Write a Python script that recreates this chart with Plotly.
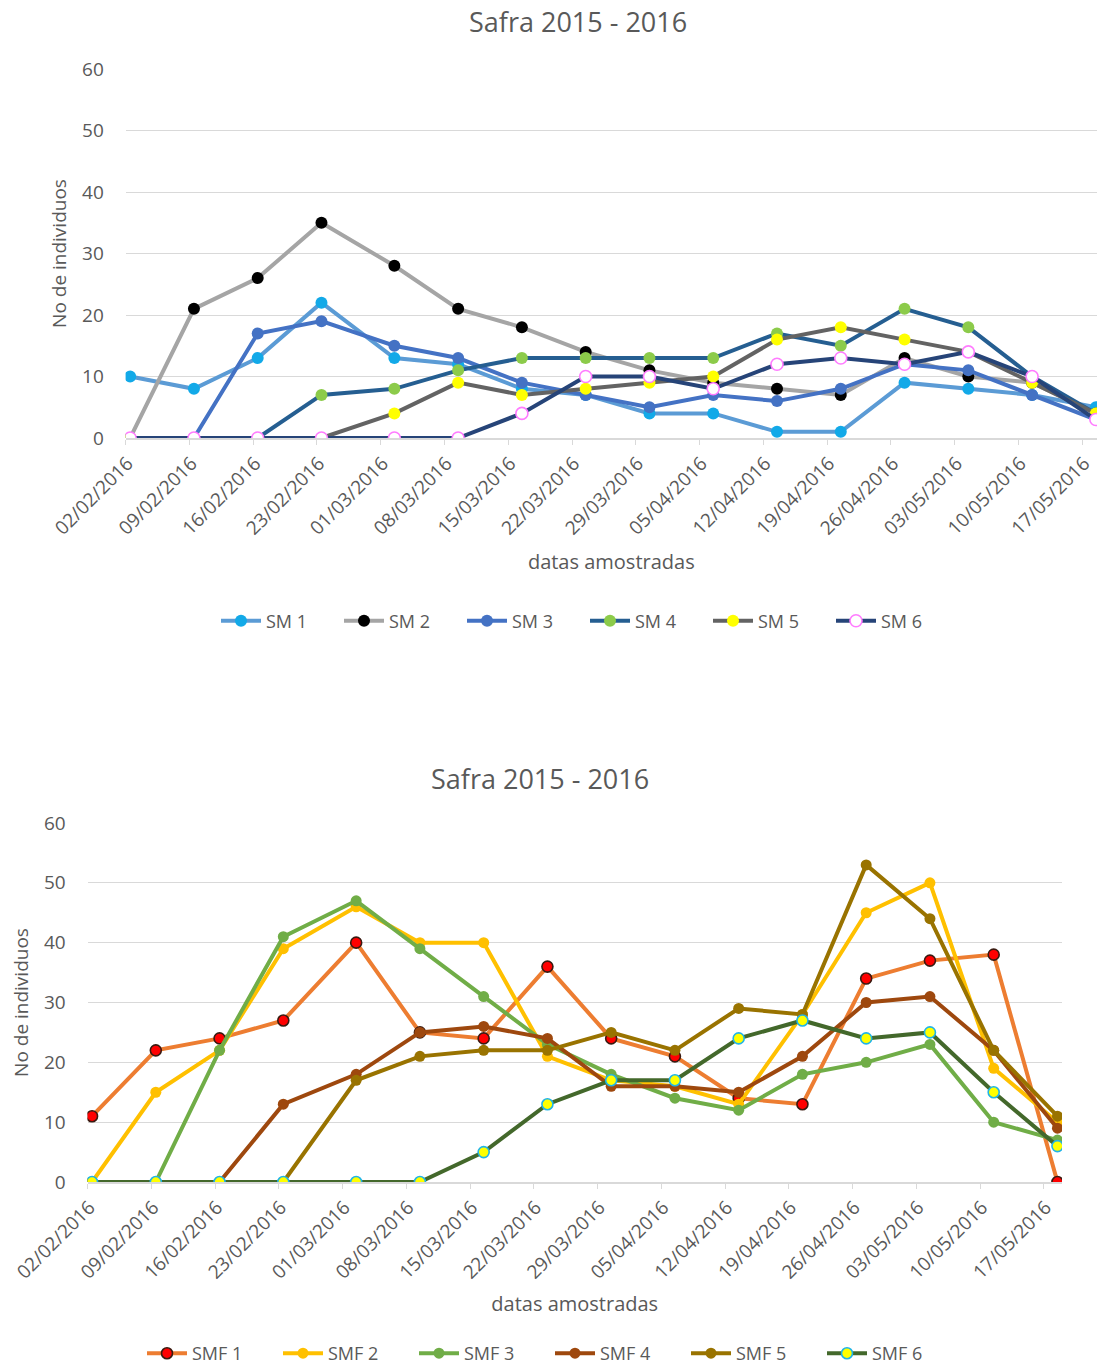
import pandas as pd
import plotly.graph_objects as go

# ---------------- data ----------------
sample_dates = ["02/02/2016", "09/02/2016", "16/02/2016", "23/02/2016", "02/03/2016",
                "09/03/2016", "16/03/2016", "23/03/2016", "30/03/2016", "06/04/2016",
                "13/04/2016", "20/04/2016", "27/04/2016", "04/05/2016", "11/05/2016",
                "18/05/2016"]
tick_labels = ["02/02/2016", "09/02/2016", "16/02/2016", "23/02/2016", "01/03/2016",
               "08/03/2016", "15/03/2016", "22/03/2016", "29/03/2016", "05/04/2016",
               "12/04/2016", "19/04/2016", "26/04/2016", "03/05/2016", "10/05/2016",
               "17/05/2016"]

sm_names = ["SM 1", "SM 2", "SM 3", "SM 4", "SM 5", "SM 6"]
SM1 = [10, 8, 13, 22, 13, 12, 8, 7, 4, 4, 1, 1, 9, 8, 7, 5]
SM2 = [0, 21, 26, 35, 28, 21, 18, 14, 11, 9, 8, 7, 13, 10, 9, 4]
SM3 = [0, 0, 17, 19, 15, 13, 9, 7, 5, 7, 6, 8, 12, 11, 7, 3]
SM4 = [0, 0, 0, 7, 8, 11, 13, 13, 13, 13, 17, 15, 21, 18, 10, 4]
SM5 = [0, 0, 0, 0, 4, 9, 7, 8, 9, 10, 16, 18, 16, 14, 9, 4]
SM6 = [0, 0, 0, 0, 0, 0, 4, 10, 10, 8, 12, 13, 12, 14, 10, 3]

smf_names = ["SMF 1", "SMF 2", "SMF 3", "SMF 4", "SMF 5", "SMF 6"]
SMF1 = [11, 22, 24, 27, 40, 25, 24, 36, 24, 21, 14, 13, 34, 37, 38, 0]
SMF2 = [0, 15, 22, 39, 46, 40, 40, 21, 17, 16, 13, 28, 45, 50, 19, 10]
SMF3 = [0, 0, 22, 41, 47, 39, 31, 23, 18, 14, 12, 18, 20, 23, 10, 7]
SMF4 = [0, 0, 0, 13, 18, 25, 26, 24, 16, 16, 15, 21, 30, 31, 22, 9]
SMF5 = [0, 0, 0, 0, 17, 21, 22, 22, 25, 22, 29, 28, 53, 44, 22, 11]
SMF6 = [0, 0, 0, 0, 0, 0, 5, 13, 17, 17, 24, 27, 24, 25, 15, 6]

chart_title = "Safra 2015 - 2016"
x_title = "datas amostradas"
y_title = "No de individuos"

# ---------------- styles ----------------
sm_styles = [
    dict(line="#5B9BD5", fill="#12A9E8", outline=None),
    dict(line="#A5A5A5", fill="#000000", outline=None),
    dict(line="#4472C4", fill="#4472C4", outline=None),
    dict(line="#255E91", fill="#8CCB4A", outline=None),
    dict(line="#636363", fill="#FFFF00", outline=None),
    dict(line="#264478", fill="#FFFFFF", outline="#FF7CFF"),
]
smf_styles = [
    dict(line="#ED7D31", fill="#FF0000", outline="#3A1A10"),
    dict(line="#FFC000", fill="#FFC000", outline=None),
    dict(line="#70AD47", fill="#70AD47", outline=None),
    dict(line="#9E480E", fill="#9E480E", outline=None),
    dict(line="#997300", fill="#997300", outline=None),
    dict(line="#43682B", fill="#FFFF00", outline="#1FB4E8"),
]

FONT = "Open Sans, Noto Sans, sans-serif"
TXT = "#595959"
GRID = "#D9D9D9"
W, H = 1097, 1372

x_pts = pd.to_datetime(sample_dates, dayfirst=True) + pd.Timedelta(hours=12)
x_ticks = pd.to_datetime(tick_labels, dayfirst=True)

fig = go.Figure()


def add_series(names, series, styles, xa, ya, legend, msize):
    for name, vals, st in zip(names, series, styles):
        mline = dict(width=1.6, color=st["outline"]) if st["outline"] else dict(width=0)
        fig.add_trace(go.Scatter(
            x=x_pts, y=vals, name=name, mode="lines+markers",
            xaxis=xa, yaxis=ya, legend=legend,
            line=dict(color=st["line"], width=4),
            marker=dict(size=msize, color=st["fill"], line=mline),
        ))


add_series(sm_names, [SM1, SM2, SM3, SM4, SM5, SM6], sm_styles, "x", "y", "legend", 12)
add_series(smf_names, [SMF1, SMF2, SMF3, SMF4, SMF5, SMF6], smf_styles, "x2", "y2", "legend2", 11)


def xaxis_cfg(domain, rng, anchor, standoff):
    return dict(
        domain=domain, anchor=anchor, type="date", range=rng,
        tickmode="array", tickvals=x_ticks, ticktext=tick_labels, tickangle=-45,
        ticks="outside", ticklen=5, tickcolor=GRID, tickwidth=1.3,
        ticklabelshift=2, ticklabeloverflow="allow",
        showline=True, linecolor=GRID, linewidth=1.5,
        showgrid=False, zeroline=False,
        tickfont=dict(family=FONT, size=19, color=TXT),
        title=dict(text=x_title, font=dict(family=FONT, size=20, color=TXT), standoff=standoff),
        automargin=False, fixedrange=True,
    )


def yaxis_cfg(domain, anchor):
    return dict(
        domain=domain, anchor=anchor, range=[0, 60], dtick=10, tick0=0,
        showgrid=True, gridcolor=GRID, gridwidth=1.3,
        zeroline=False, showline=False,
        ticks="outside", ticklen=17, tickcolor="rgba(0,0,0,0)",
        tickfont=dict(family=FONT, size=19, color=TXT),
        title=dict(text=y_title, font=dict(family=FONT, size=19, color=TXT), standoff=10),
        automargin=False, fixedrange=True,
    )


top_x = [125.6 / W, 1.0]
top_y = [1 - 438 / H, 1 - 69 / H]
bot_x = [87.5 / W, 1062 / W]
bot_y = [1 - 1182 / H, 1 - 823 / H]

fig.update_layout(
    width=W, height=H,
    margin=dict(l=0, r=0, t=0, b=0),
    paper_bgcolor="white", plot_bgcolor="white",
    font=dict(family=FONT, color=TXT),
    xaxis=xaxis_cfg(top_x, ["2016-02-02 00:00", "2016-05-18 15:00"], "y", 16),
    yaxis=yaxis_cfg(top_y, "x"),
    xaxis2=xaxis_cfg(bot_x, ["2016-02-02 00:00", "2016-05-19 00:00"], "y2", 14),
    yaxis2=yaxis_cfg(bot_y, "x2"),
    legend=dict(orientation="h", x=585 / W, xanchor="center", y=1 - 621 / H, yanchor="middle",
                font=dict(family=FONT, size=18, color=TXT), itemwidth=40,
                entrywidth=68, traceorder="normal"),
    legend2=dict(orientation="h", x=550 / W, xanchor="center", y=0, yanchor="bottom",
                 font=dict(family=FONT, size=18, color=TXT), itemwidth=40,
                 entrywidth=81, traceorder="normal"),
    annotations=[
        dict(text=chart_title, x=578 / W, y=1 - 22 / H, xref="paper", yref="paper",
             xanchor="center", yanchor="middle", showarrow=False,
             font=dict(family=FONT, size=27, color=TXT)),
        dict(text=chart_title, x=540 / W, y=1 - 778 / H, xref="paper", yref="paper",
             xanchor="center", yanchor="middle", showarrow=False,
             font=dict(family=FONT, size=27, color=TXT)),
    ],
)

fig.write_html("out.html", config={"displayModeBar": False},
               post_script="document.body.style.margin='0';")
